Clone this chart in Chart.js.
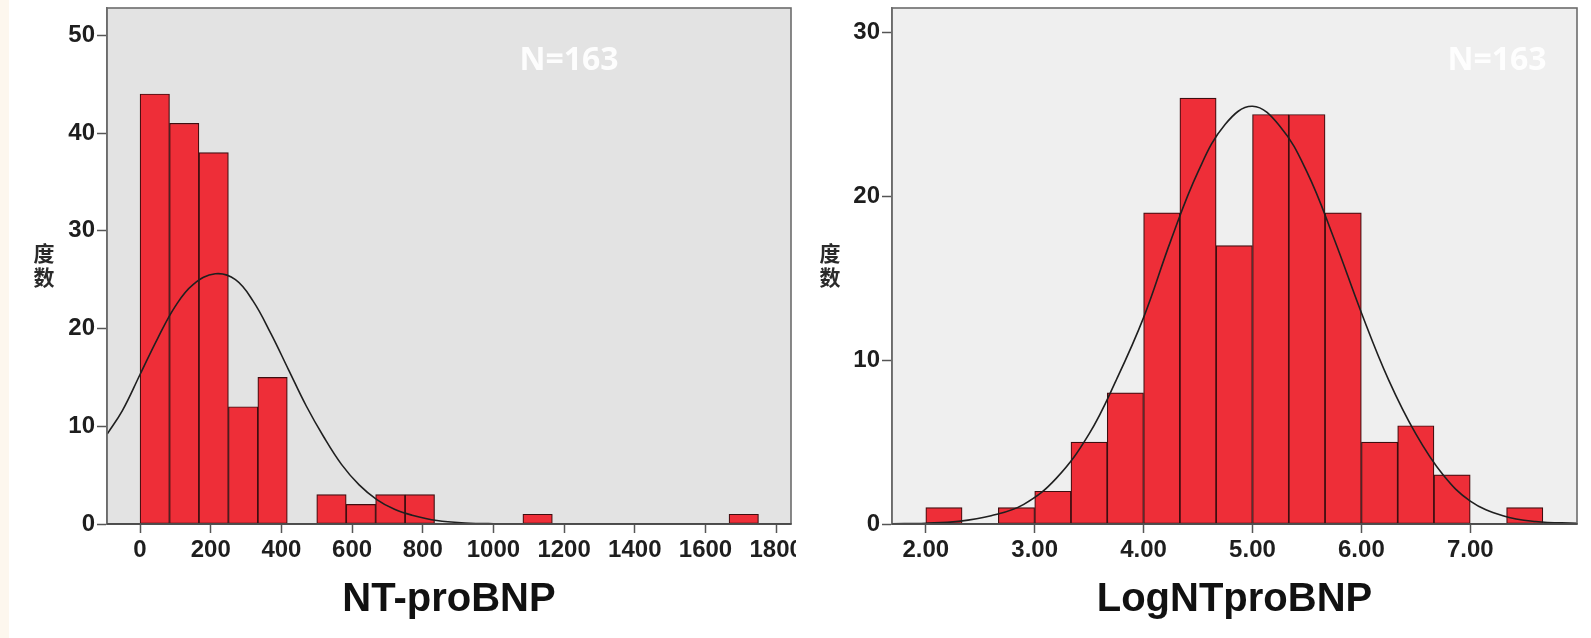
<!DOCTYPE html>
<html>
<head>
<meta charset="utf-8">
<script src="https://cdn.jsdelivr.net/npm/chart.js@4.4.1/dist/chart.umd.min.js"></script>
<style>
  html, body { margin: 0; padding: 0; background: #fff; }
  body { width: 1591px; height: 638px; position: relative; overflow: hidden; }
  #strip { position: absolute; left: 0; top: 0; width: 9px; height: 638px; background: #fdf7ee; }
  #leftWrap { position: absolute; left: 0; top: 0; width: 796px; height: 638px; }
  #rightWrap { position: absolute; left: 796px; top: 0; width: 795px; height: 638px; }
</style>
</head>
<body>
<div id="strip"></div>
<div id="leftWrap"><canvas id="leftChart"></canvas></div>
<div id="rightWrap"><canvas id="rightChart"></canvas></div>
<script>
// NT-proBNP histogram (bin centres, counts) and fitted curve
const leftBinX = [41.7, 125.0, 208.3, 291.7, 375.0, 458.3, 541.7, 625.0, 708.3, 791.7, 875.0,
                  958.3, 1041.7, 1125.0, 1208.3, 1291.7, 1375.0, 1458.3, 1541.7, 1625.0, 1708.3];
const leftCounts = [44, 41, 38, 12, 15, 0, 3, 2, 3, 3, 0, 0, 0, 1, 0, 0, 0, 0, 0, 0, 1];
const leftCurveX = [-93, -50, 0, 50, 100, 150, 213, 270, 320, 370, 420, 470, 520, 570, 620,
                    670, 720, 770, 840, 920, 1000, 1200, 1500, 1845];
const leftCurveY = [9.2, 11.6, 15.3, 19.0, 22.3, 24.5, 25.6, 25.0, 22.8, 19.5, 15.8, 12.1, 8.9,
                    6.1, 4.0, 2.5, 1.5, 0.9, 0.35, 0.1, 0.03, 0, 0, 0];
const leftXTicks = [0, 200, 400, 600, 800, 1000, 1200, 1400, 1600, 1800];
const leftYTicks = [0, 10, 20, 30, 40, 50];

// LogNTproBNP histogram and fitted curve
const rightBinX = [2.167, 2.5, 2.833, 3.167, 3.5, 3.833, 4.167, 4.5, 4.833, 5.167, 5.5,
                   5.833, 6.167, 6.5, 6.833, 7.167, 7.5];
const rightCounts = [1, 0, 1, 2, 5, 8, 19, 26, 17, 25, 25, 19, 5, 6, 3, 0, 1];
const rightCurveX = [1.69, 2.0, 2.3, 2.6, 2.9, 3.2, 3.5, 3.75, 4.0, 4.25, 4.5, 4.75, 5.0,
                     5.25, 5.5, 5.75, 6.0, 6.25, 6.5, 6.75, 7.0, 7.3, 7.6, 7.98];
const rightCurveY = [0.01, 0.05, 0.16, 0.5, 1.2, 2.8, 5.5, 8.8, 12.6, 17.3, 21.5, 24.4, 25.5,
                     24.3, 21.5, 17.4, 12.9, 8.8, 5.5, 3.0, 1.4, 0.5, 0.15, 0.04];
const rightXTicks = [2, 3, 4, 5, 6, 7];
const rightYTicks = [0, 10, 20, 30];

// plot background, frame, N label and the upright y title
const spssFrame = {
    id: 'spssFrame',
    beforeDraw(chart, args, opts) {
        const {ctx, chartArea: a} = chart;
        ctx.save();
        ctx.fillStyle = opts.bg;
        ctx.fillRect(a.left, a.top, a.right - a.left, a.bottom - a.top);
        ctx.restore();
    },
    afterDatasetsDraw(chart, args, opts) {
        const {ctx, chartArea: a} = chart;
        ctx.save();
        ctx.strokeStyle = '#6c6c6c';
        ctx.lineWidth = 1.6;
        ctx.strokeRect(a.left, a.top, a.right - a.left, a.bottom - a.top);
        ctx.strokeStyle = '#444';
        ctx.beginPath();
        ctx.moveTo(a.left, a.bottom);
        ctx.lineTo(a.right, a.bottom);
        ctx.stroke();

        ctx.textAlign = 'center';
        ctx.textBaseline = 'middle';
        ctx.fillStyle = 'rgba(255,255,255,0.93)';
        ctx.font = 'bold 32px "Open Sans"';
        ctx.fillText('N=163', opts.nX, 61);

        ctx.fillStyle = '#2a2a2a';
        ctx.font = 'bold 21px "Noto Sans CJK SC"';
        ctx.fillText('度', opts.titleX, 253);
        ctx.fillText('数', opts.titleX, 277);
        ctx.restore();
    }
};

function makeChart(canvasId, cfg) {
    const tickFont = { family: 'Liberation Sans', size: 24, weight: 'bold' };
    return new Chart(document.getElementById(canvasId), {
        type: 'bar',
        data: {
            datasets: [
                {
                    type: 'line',
                    data: cfg.curveX.map((x, i) => ({ x: x, y: cfg.curveY[i] })),
                    borderColor: '#1f1f1f',
                    borderWidth: 1.6,
                    pointRadius: 0,
                    tension: 0.4,
                    order: 0
                },
                {
                    type: 'bar',
                    data: cfg.binX.map((x, i) => ({ x: x, y: cfg.counts[i] })),
                    backgroundColor: '#ee2e38',
                    borderColor: '#3e0e10',
                    borderWidth: 1.2,
                    borderSkipped: false,
                    barPercentage: 1,
                    categoryPercentage: 1,
                    order: 1
                }
            ]
        },
        options: {
            responsive: true,
            maintainAspectRatio: false,
            animation: false,
            layout: { padding: { left: 0, top: 8, right: cfg.rightPad, bottom: 0 } },
            plugins: {
                legend: { display: false },
                tooltip: { enabled: false },
                spssFrame: { bg: cfg.bg, nX: cfg.nX, titleX: cfg.titleX }
            },
            scales: {
                x: {
                    type: 'linear',
                    min: cfg.xMin,
                    max: cfg.xMax,
                    offset: false,
                    afterBuildTicks: s => { s.ticks = cfg.xTicks.map(v => ({ value: v })); },
                    afterFit: s => { s.height = 114; s.paddingLeft = 0; s.paddingRight = 0; },
                    grid: { drawOnChartArea: false, drawTicks: true, tickLength: 9, tickColor: '#555', tickWidth: 1.5, offset: false },
                    border: { display: true, color: '#444', width: 1.6 },
                    ticks: { color: '#1e1e1e', font: tickFont, padding: 3, maxRotation: 0, autoSkip: false, callback: cfg.fmt },
                    title: {
                        display: true,
                        text: cfg.title,
                        color: '#111',
                        font: { family: 'Liberation Sans', size: 40, weight: 'bold' },
                        padding: { top: 0, bottom: 14 }
                    }
                },
                y: {
                    min: 0,
                    max: cfg.yMax,
                    afterBuildTicks: s => { s.ticks = cfg.yTicks.map(v => ({ value: v })); },
                    afterFit: s => { s.width = cfg.yWidth; s.paddingTop = 0; s.paddingBottom = 0; },
                    grid: { drawOnChartArea: false, drawTicks: true, tickLength: 10, tickColor: '#555', tickWidth: 1.5 },
                    border: { display: true, color: '#6c6c6c', width: 1.6 },
                    ticks: { color: '#1e1e1e', font: tickFont, padding: 2 }
                }
            }
        },
        plugins: [spssFrame]
    });
}

makeChart('leftChart', {
    binX: leftBinX, counts: leftCounts, curveX: leftCurveX, curveY: leftCurveY,
    xTicks: leftXTicks, yTicks: leftYTicks,
    xMin: -93.5, xMax: 1842, yMax: 52.8,
    fmt: v => String(v),
    title: 'NT-proBNP',
    bg: '#e3e3e3', yWidth: 107, rightPad: 5, nX: 569, titleX: 44
});

makeChart('rightChart', {
    binX: rightBinX, counts: rightCounts, curveX: rightCurveX, curveY: rightCurveY,
    xTicks: rightXTicks, yTicks: rightYTicks,
    xMin: 1.69, xMax: 7.98, yMax: 31.5,
    fmt: v => Number(v).toFixed(2),
    title: 'LogNTproBNP',
    bg: '#efefef', yWidth: 96, rightPad: 14, nX: 701, titleX: 34
});
</script>
</body>
</html>
